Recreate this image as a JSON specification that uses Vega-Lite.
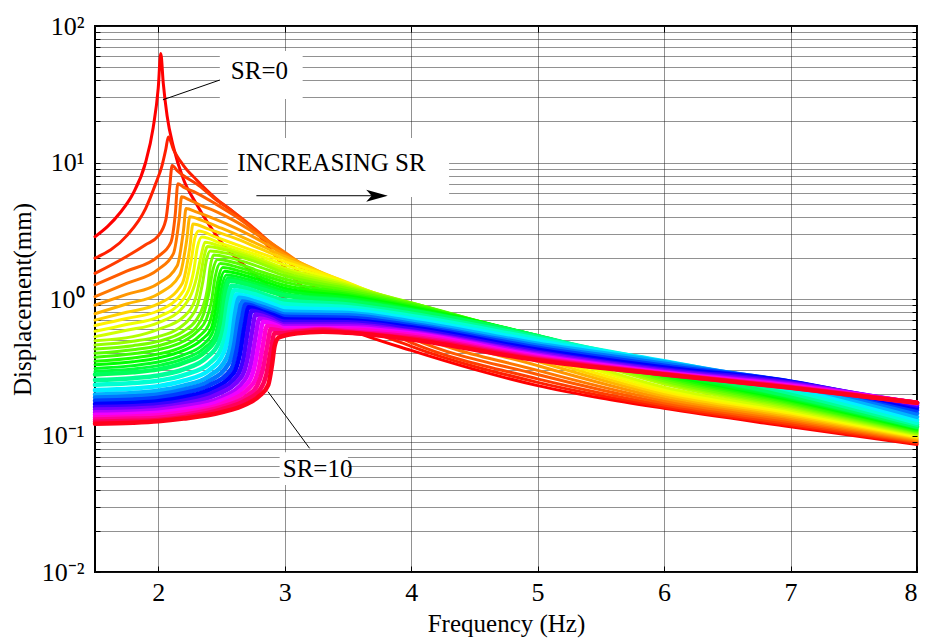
{
"$schema":"https://vega.github.io/schema/vega-lite/v6.json",
"width":822,"height":546,
"autosize":{"type":"none"},
"padding":{"left":95,"top":26,"right":10,"bottom":72},
"background":"white",
"config":{"view":{"stroke":"black","strokeWidth":2},"axis":{"labelFont":"Liberation Serif","titleFont":"Liberation Serif","labelColor":"black","titleColor":"black","tickColor":"black","domain":false,"titleFontWeight":"normal"}},
"datasets":{
"curves":[
{"s":0,"f":1.5,"d":2.86},{"s":0,"f":1.6,"d":3.4},{"s":0,"f":1.7,"d":4.3},{"s":0,"f":1.8,"d":5.9},{"s":0,"f":1.9,"d":10},{"s":0,"f":1.96,"d":18},{"s":0,"f":2.0,"d":35},{"s":0,"f":2.02,"d":63},{"s":0,"f":2.04,"d":38},{"s":0,"f":2.07,"d":22},{"s":0,"f":2.12,"d":13},{"s":0,"f":2.2,"d":7.5},{"s":0,"f":2.3,"d":5.0},{"s":0,"f":2.5,"d":2.6},{"s":0,"f":2.75,"d":1.55},{"s":0,"f":3.0,"d":1.0},{"s":0,"f":3.25,"d":0.75},{"s":0,"f":3.5,"d":0.6},{"s":0,"f":4.0,"d":0.42},{"s":0,"f":4.5,"d":0.305},{"s":0,"f":5.0,"d":0.232},{"s":0,"f":5.5,"d":0.188},{"s":0,"f":6.0,"d":0.158},{"s":0,"f":7.0,"d":0.116},{"s":0,"f":8.0,"d":0.086},
{"s":0.2,"f":1.5,"d":1.99},{"s":0.2,"f":1.75,"d":2.9},{"s":0.2,"f":1.9,"d":4.6},{"s":0.2,"f":1.98,"d":7.0},{"s":0.2,"f":2.03,"d":9.5},{"s":0.2,"f":2.06,"d":12.5},{"s":0.2,"f":2.08,"d":15.4},{"s":0.2,"f":2.12,"d":12.5},{"s":0.2,"f":2.2,"d":9.5},{"s":0.2,"f":2.3,"d":7.5},{"s":0.2,"f":2.45,"d":5.5},{"s":0.2,"f":2.6,"d":4.3},{"s":0.2,"f":2.8,"d":2.9},{"s":0.2,"f":3.0,"d":1.7},{"s":0.2,"f":3.25,"d":0.98},{"s":0.2,"f":3.5,"d":0.7},{"s":0.2,"f":4.0,"d":0.45},{"s":0.2,"f":5.0,"d":0.245},{"s":0.2,"f":6.0,"d":0.162},{"s":0.2,"f":7.0,"d":0.119},{"s":0.2,"f":8.0,"d":0.0875},
{"s":0.4,"f":1.5,"d":1.54},{"s":0.4,"f":1.75,"d":2.05},{"s":0.4,"f":1.9,"d":2.5},{"s":0.4,"f":2.0,"d":2.9},{"s":0.4,"f":2.06,"d":3.8},{"s":0.4,"f":2.09,"d":6.5},{"s":0.4,"f":2.11,"d":9.5},{"s":0.4,"f":2.15,"d":8.7},{"s":0.4,"f":2.2,"d":8.0},{"s":0.4,"f":2.3,"d":7.0},{"s":0.4,"f":2.45,"d":5.4},{"s":0.4,"f":2.6,"d":4.3},{"s":0.4,"f":2.8,"d":3.05},{"s":0.4,"f":3.0,"d":2.0},{"s":0.4,"f":3.25,"d":1.18},{"s":0.4,"f":3.5,"d":0.8},{"s":0.4,"f":4.0,"d":0.48},{"s":0.4,"f":5.0,"d":0.26},{"s":0.4,"f":6.0,"d":0.167},{"s":0.4,"f":7.0,"d":0.122},{"s":0.4,"f":8.0,"d":0.089},
{"s":0.6,"f":1.5,"d":1.27},{"s":0.6,"f":1.75,"d":1.6},{"s":0.6,"f":2.0,"d":2.05},{"s":0.6,"f":2.1,"d":2.6},{"s":0.6,"f":2.135,"d":4.2},{"s":0.6,"f":2.155,"d":7.0},{"s":0.6,"f":2.2,"d":6.6},{"s":0.6,"f":2.3,"d":6.0},{"s":0.6,"f":2.45,"d":5.0},{"s":0.6,"f":2.6,"d":4.1},{"s":0.6,"f":2.8,"d":3.0},{"s":0.6,"f":3.0,"d":2.15},{"s":0.6,"f":3.25,"d":1.36},{"s":0.6,"f":3.5,"d":0.92},{"s":0.6,"f":4.0,"d":0.52},{"s":0.6,"f":5.0,"d":0.28},{"s":0.6,"f":6.0,"d":0.173},{"s":0.6,"f":7.0,"d":0.126},{"s":0.6,"f":8.0,"d":0.0905},
{"s":0.8,"f":1.5,"d":1.04},{"s":0.8,"f":1.75,"d":1.3},{"s":0.8,"f":2.0,"d":1.65},{"s":0.8,"f":2.12,"d":2.15},{"s":0.8,"f":2.165,"d":3.8},{"s":0.8,"f":2.185,"d":5.6},{"s":0.8,"f":2.25,"d":5.3},{"s":0.8,"f":2.35,"d":4.8},{"s":0.8,"f":2.45,"d":4.4},{"s":0.8,"f":2.6,"d":3.75},{"s":0.8,"f":2.8,"d":2.9},{"s":0.8,"f":3.0,"d":2.2},{"s":0.8,"f":3.25,"d":1.5},{"s":0.8,"f":3.5,"d":1.04},{"s":0.8,"f":4.0,"d":0.57},{"s":0.8,"f":5.0,"d":0.3},{"s":0.8,"f":6.0,"d":0.18},{"s":0.8,"f":7.0,"d":0.13},{"s":0.8,"f":8.0,"d":0.092},
{"s":1.0,"f":1.5,"d":0.9},{"s":1.0,"f":1.75,"d":1.08},{"s":1.0,"f":2.0,"d":1.3},{"s":1.0,"f":2.15,"d":1.75},{"s":1.0,"f":2.2,"d":3.2},{"s":1.0,"f":2.22,"d":4.6},{"s":1.0,"f":2.3,"d":4.35},{"s":1.0,"f":2.45,"d":3.85},{"s":1.0,"f":2.6,"d":3.35},{"s":1.0,"f":2.8,"d":2.7},{"s":1.0,"f":3.0,"d":2.12},{"s":1.0,"f":3.25,"d":1.6},{"s":1.0,"f":3.5,"d":1.15},{"s":1.0,"f":4.0,"d":0.63},{"s":1.0,"f":5.0,"d":0.325},{"s":1.0,"f":6.0,"d":0.187},{"s":1.0,"f":7.0,"d":0.134},{"s":1.0,"f":8.0,"d":0.0935},
{"s":1.2,"f":1.5,"d":0.78},{"s":1.2,"f":1.75,"d":0.92},{"s":1.2,"f":2.0,"d":1.09},{"s":1.2,"f":2.17,"d":1.5},{"s":1.2,"f":2.225,"d":2.7},{"s":1.2,"f":2.25,"d":4.0},{"s":1.2,"f":2.35,"d":3.75},{"s":1.2,"f":2.5,"d":3.3},{"s":1.2,"f":2.7,"d":2.75},{"s":1.2,"f":3.0,"d":2.05},{"s":1.2,"f":3.25,"d":1.63},{"s":1.2,"f":3.5,"d":1.24},{"s":1.2,"f":4.0,"d":0.7},{"s":1.2,"f":5.0,"d":0.35},{"s":1.2,"f":6.0,"d":0.195},{"s":1.2,"f":7.0,"d":0.138},{"s":1.2,"f":8.0,"d":0.095},
{"s":1.4,"f":1.5,"d":0.7},{"s":1.4,"f":1.75,"d":0.8},{"s":1.4,"f":2.0,"d":0.92},{"s":1.4,"f":2.19,"d":1.3},{"s":1.4,"f":2.25,"d":2.4},{"s":1.4,"f":2.275,"d":3.55},{"s":1.4,"f":2.4,"d":3.25},{"s":1.4,"f":2.6,"d":2.8},{"s":1.4,"f":2.8,"d":2.35},{"s":1.4,"f":3.0,"d":1.97},{"s":1.4,"f":3.25,"d":1.62},{"s":1.4,"f":3.5,"d":1.3},{"s":1.4,"f":4.0,"d":0.76},{"s":1.4,"f":5.0,"d":0.37},{"s":1.4,"f":6.0,"d":0.202},{"s":1.4,"f":7.0,"d":0.142},{"s":1.4,"f":8.0,"d":0.0965},
{"s":1.6,"f":1.5,"d":0.64},{"s":1.6,"f":1.75,"d":0.72},{"s":1.6,"f":2.0,"d":0.82},{"s":1.6,"f":2.2,"d":1.15},{"s":1.6,"f":2.26,"d":1.9},{"s":1.6,"f":2.29,"d":2.8},{"s":1.6,"f":2.32,"d":3.15},{"s":1.6,"f":2.45,"d":2.85},{"s":1.6,"f":2.7,"d":2.35},{"s":1.6,"f":3.0,"d":1.88},{"s":1.6,"f":3.5,"d":1.32},{"s":1.6,"f":4.0,"d":0.82},{"s":1.6,"f":5.0,"d":0.39},{"s":1.6,"f":6.0,"d":0.21},{"s":1.6,"f":7.0,"d":0.146},{"s":1.6,"f":8.0,"d":0.098},
{"s":1.8,"f":1.5,"d":0.58},{"s":1.8,"f":1.75,"d":0.65},{"s":1.8,"f":2.0,"d":0.74},{"s":1.8,"f":2.2,"d":1.0},{"s":1.8,"f":2.28,"d":1.6},{"s":1.8,"f":2.31,"d":2.4},{"s":1.8,"f":2.345,"d":2.85},{"s":1.8,"f":2.5,"d":2.55},{"s":1.8,"f":2.75,"d":2.15},{"s":1.8,"f":3.0,"d":1.78},{"s":1.8,"f":3.5,"d":1.3},{"s":1.8,"f":4.0,"d":0.87},{"s":1.8,"f":5.0,"d":0.415},{"s":1.8,"f":6.0,"d":0.218},{"s":1.8,"f":7.0,"d":0.15},{"s":1.8,"f":8.0,"d":0.0995},
{"s":2.0,"f":1.5,"d":0.53},{"s":2.0,"f":1.75,"d":0.59},{"s":2.0,"f":2.0,"d":0.67},{"s":2.0,"f":2.2,"d":0.88},{"s":2.0,"f":2.3,"d":1.4},{"s":2.0,"f":2.34,"d":2.1},{"s":2.0,"f":2.37,"d":2.6},{"s":2.0,"f":2.5,"d":2.42},{"s":2.0,"f":2.75,"d":2.05},{"s":2.0,"f":3.0,"d":1.68},{"s":2.0,"f":3.5,"d":1.28},{"s":2.0,"f":4.0,"d":0.9},{"s":2.0,"f":5.0,"d":0.435},{"s":2.0,"f":6.0,"d":0.226},{"s":2.0,"f":7.0,"d":0.154},{"s":2.0,"f":8.0,"d":0.101},
{"s":2.2,"f":1.5,"d":0.495},{"s":2.2,"f":1.8,"d":0.53},{"s":2.2,"f":2.0,"d":0.6},{"s":2.2,"f":2.2,"d":0.74},{"s":2.2,"f":2.29,"d":0.98},{"s":2.2,"f":2.33,"d":1.4},{"s":2.2,"f":2.36,"d":2.0},{"s":2.2,"f":2.39,"d":2.42},{"s":2.2,"f":2.52,"d":2.3},{"s":2.2,"f":2.75,"d":1.98},{"s":2.2,"f":3.0,"d":1.62},{"s":2.2,"f":3.5,"d":1.25},{"s":2.2,"f":4.0,"d":0.925},{"s":2.2,"f":5.0,"d":0.46},{"s":2.2,"f":6.0,"d":0.238},{"s":2.2,"f":7.0,"d":0.158},{"s":2.2,"f":8.0,"d":0.1025},
{"s":2.4,"f":1.5,"d":0.46},{"s":2.4,"f":1.8,"d":0.49},{"s":2.4,"f":2.0,"d":0.53},{"s":2.4,"f":2.15,"d":0.6},{"s":2.4,"f":2.25,"d":0.72},{"s":2.4,"f":2.31,"d":0.9},{"s":2.4,"f":2.35,"d":1.3},{"s":2.4,"f":2.38,"d":1.9},{"s":2.4,"f":2.41,"d":2.25},{"s":2.4,"f":2.55,"d":2.15},{"s":2.4,"f":2.75,"d":1.9},{"s":2.4,"f":3.0,"d":1.55},{"s":2.4,"f":3.5,"d":1.22},{"s":2.4,"f":4.0,"d":0.94},{"s":2.4,"f":5.0,"d":0.475},{"s":2.4,"f":6.0,"d":0.245},{"s":2.4,"f":7.0,"d":0.162},{"s":2.4,"f":8.0,"d":0.104},
{"s":2.6,"f":1.5,"d":0.43},{"s":2.6,"f":1.8,"d":0.455},{"s":2.6,"f":2.0,"d":0.49},{"s":2.6,"f":2.2,"d":0.58},{"s":2.6,"f":2.3,"d":0.7},{"s":2.6,"f":2.35,"d":0.86},{"s":2.6,"f":2.39,"d":1.2},{"s":2.6,"f":2.41,"d":1.7},{"s":2.6,"f":2.44,"d":2.1},{"s":2.6,"f":2.57,"d":2.0},{"s":2.6,"f":2.8,"d":1.72},{"s":2.6,"f":3.0,"d":1.48},{"s":2.6,"f":3.5,"d":1.19},{"s":2.6,"f":4.0,"d":0.935},{"s":2.6,"f":5.0,"d":0.49},{"s":2.6,"f":6.0,"d":0.252},{"s":2.6,"f":7.0,"d":0.166},{"s":2.6,"f":8.0,"d":0.1055},
{"s":2.8,"f":1.5,"d":0.4},{"s":2.8,"f":1.8,"d":0.425},{"s":2.8,"f":2.0,"d":0.455},{"s":2.8,"f":2.2,"d":0.53},{"s":2.8,"f":2.3,"d":0.62},{"s":2.8,"f":2.36,"d":0.78},{"s":2.8,"f":2.4,"d":1.1},{"s":2.8,"f":2.43,"d":1.6},{"s":2.8,"f":2.47,"d":1.95},{"s":2.8,"f":2.6,"d":1.85},{"s":2.8,"f":2.8,"d":1.6},{"s":2.8,"f":3.0,"d":1.4},{"s":2.8,"f":3.5,"d":1.15},{"s":2.8,"f":4.0,"d":0.93},{"s":2.8,"f":5.0,"d":0.505},{"s":2.8,"f":6.0,"d":0.26},{"s":2.8,"f":7.0,"d":0.17},{"s":2.8,"f":8.0,"d":0.107},
{"s":3.0,"f":1.5,"d":0.375},{"s":3.0,"f":1.8,"d":0.397},{"s":3.0,"f":2.0,"d":0.425},{"s":3.0,"f":2.2,"d":0.49},{"s":3.0,"f":2.31,"d":0.58},{"s":3.0,"f":2.38,"d":0.71},{"s":3.0,"f":2.42,"d":0.95},{"s":3.0,"f":2.45,"d":1.45},{"s":3.0,"f":2.49,"d":1.82},{"s":3.0,"f":2.62,"d":1.72},{"s":3.0,"f":2.8,"d":1.52},{"s":3.0,"f":3.0,"d":1.33},{"s":3.0,"f":3.5,"d":1.11},{"s":3.0,"f":4.0,"d":0.91},{"s":3.0,"f":5.0,"d":0.52},{"s":3.0,"f":6.0,"d":0.268},{"s":3.0,"f":7.0,"d":0.174},{"s":3.0,"f":8.0,"d":0.1085},
{"s":3.2,"f":1.5,"d":0.35},{"s":3.2,"f":1.8,"d":0.37},{"s":3.2,"f":2.0,"d":0.395},{"s":3.2,"f":2.2,"d":0.45},{"s":3.2,"f":2.32,"d":0.53},{"s":3.2,"f":2.4,"d":0.65},{"s":3.2,"f":2.44,"d":0.9},{"s":3.2,"f":2.47,"d":1.35},{"s":3.2,"f":2.51,"d":1.7},{"s":3.2,"f":2.65,"d":1.6},{"s":3.2,"f":2.8,"d":1.45},{"s":3.2,"f":3.0,"d":1.26},{"s":3.2,"f":3.5,"d":1.08},{"s":3.2,"f":4.0,"d":0.89},{"s":3.2,"f":5.0,"d":0.53},{"s":3.2,"f":6.0,"d":0.275},{"s":3.2,"f":7.0,"d":0.178},{"s":3.2,"f":8.0,"d":0.11},
{"s":3.4,"f":1.5,"d":0.33},{"s":3.4,"f":1.8,"d":0.347},{"s":3.4,"f":2.0,"d":0.37},{"s":3.4,"f":2.2,"d":0.42},{"s":3.4,"f":2.34,"d":0.5},{"s":3.4,"f":2.42,"d":0.61},{"s":3.4,"f":2.455,"d":0.85},{"s":3.4,"f":2.485,"d":1.28},{"s":3.4,"f":2.525,"d":1.6},{"s":3.4,"f":2.67,"d":1.5},{"s":3.4,"f":2.82,"d":1.36},{"s":3.4,"f":3.0,"d":1.2},{"s":3.4,"f":3.5,"d":1.05},{"s":3.4,"f":4.0,"d":0.87},{"s":3.4,"f":5.0,"d":0.537},{"s":3.4,"f":6.0,"d":0.283},{"s":3.4,"f":7.0,"d":0.182},{"s":3.4,"f":8.0,"d":0.1115},
{"s":3.6,"f":1.5,"d":0.31},{"s":3.6,"f":1.8,"d":0.325},{"s":3.6,"f":2.0,"d":0.345},{"s":3.6,"f":2.2,"d":0.39},{"s":3.6,"f":2.35,"d":0.46},{"s":3.6,"f":2.43,"d":0.57},{"s":3.6,"f":2.47,"d":0.8},{"s":3.6,"f":2.5,"d":1.2},{"s":3.6,"f":2.54,"d":1.5},{"s":3.6,"f":2.7,"d":1.4},{"s":3.6,"f":2.85,"d":1.27},{"s":3.6,"f":3.0,"d":1.15},{"s":3.6,"f":3.5,"d":1.02},{"s":3.6,"f":4.0,"d":0.85},{"s":3.6,"f":5.0,"d":0.54},{"s":3.6,"f":6.0,"d":0.29},{"s":3.6,"f":7.0,"d":0.186},{"s":3.6,"f":8.0,"d":0.113},
{"s":3.8,"f":1.5,"d":0.295},{"s":3.8,"f":1.8,"d":0.307},{"s":3.8,"f":2.0,"d":0.325},{"s":3.8,"f":2.2,"d":0.365},{"s":3.8,"f":2.36,"d":0.435},{"s":3.8,"f":2.45,"d":0.545},{"s":3.8,"f":2.485,"d":0.75},{"s":3.8,"f":2.515,"d":1.15},{"s":3.8,"f":2.55,"d":1.43},{"s":3.8,"f":2.7,"d":1.34},{"s":3.8,"f":2.85,"d":1.22},{"s":3.8,"f":3.0,"d":1.1},{"s":3.8,"f":3.5,"d":0.99},{"s":3.8,"f":4.0,"d":0.835},{"s":3.8,"f":5.0,"d":0.54},{"s":3.8,"f":6.0,"d":0.3},{"s":3.8,"f":7.0,"d":0.19},{"s":3.8,"f":8.0,"d":0.1145},
{"s":4.0,"f":1.5,"d":0.28},{"s":4.0,"f":1.8,"d":0.29},{"s":4.0,"f":2.0,"d":0.305},{"s":4.0,"f":2.2,"d":0.34},{"s":4.0,"f":2.37,"d":0.41},{"s":4.0,"f":2.46,"d":0.52},{"s":4.0,"f":2.5,"d":0.7},{"s":4.0,"f":2.53,"d":1.1},{"s":4.0,"f":2.56,"d":1.36},{"s":4.0,"f":2.7,"d":1.28},{"s":4.0,"f":2.85,"d":1.16},{"s":4.0,"f":3.0,"d":1.06},{"s":4.0,"f":3.5,"d":0.96},{"s":4.0,"f":4.0,"d":0.82},{"s":4.0,"f":5.0,"d":0.535},{"s":4.0,"f":6.0,"d":0.31},{"s":4.0,"f":7.0,"d":0.195},{"s":4.0,"f":8.0,"d":0.116},
{"s":4.4,"f":1.5,"d":0.255},{"s":4.4,"f":1.8,"d":0.263},{"s":4.4,"f":2.0,"d":0.275},{"s":4.4,"f":2.2,"d":0.305},{"s":4.4,"f":2.38,"d":0.37},{"s":4.4,"f":2.48,"d":0.48},{"s":4.4,"f":2.52,"d":0.65},{"s":4.4,"f":2.55,"d":1.0},{"s":4.4,"f":2.58,"d":1.25},{"s":4.4,"f":2.72,"d":1.18},{"s":4.4,"f":2.85,"d":1.07},{"s":4.4,"f":3.0,"d":0.98},{"s":4.4,"f":3.5,"d":0.91},{"s":4.4,"f":4.0,"d":0.78},{"s":4.4,"f":5.0,"d":0.525},{"s":4.4,"f":6.0,"d":0.33},{"s":4.4,"f":7.0,"d":0.205},{"s":4.4,"f":8.0,"d":0.12},
{"s":4.8,"f":1.5,"d":0.235},{"s":4.8,"f":1.8,"d":0.242},{"s":4.8,"f":2.0,"d":0.252},{"s":4.8,"f":2.2,"d":0.277},{"s":4.8,"f":2.4,"d":0.335},{"s":4.8,"f":2.5,"d":0.44},{"s":4.8,"f":2.54,"d":0.6},{"s":4.8,"f":2.57,"d":0.92},{"s":4.8,"f":2.6,"d":1.16},{"s":4.8,"f":2.75,"d":1.09},{"s":4.8,"f":2.9,"d":0.98},{"s":4.8,"f":3.0,"d":0.92},{"s":4.8,"f":3.5,"d":0.87},{"s":4.8,"f":4.0,"d":0.75},{"s":4.8,"f":5.0,"d":0.51},{"s":4.8,"f":6.0,"d":0.345},{"s":4.8,"f":7.0,"d":0.215},{"s":4.8,"f":8.0,"d":0.124},
{"s":5.2,"f":1.5,"d":0.215},{"s":5.2,"f":1.8,"d":0.221},{"s":5.2,"f":2.0,"d":0.23},{"s":5.2,"f":2.2,"d":0.252},{"s":5.2,"f":2.4,"d":0.3},{"s":5.2,"f":2.52,"d":0.41},{"s":5.2,"f":2.56,"d":0.56},{"s":5.2,"f":2.59,"d":0.86},{"s":5.2,"f":2.62,"d":1.08},{"s":5.2,"f":2.75,"d":1.02},{"s":5.2,"f":2.9,"d":0.92},{"s":5.2,"f":3.0,"d":0.86},{"s":5.2,"f":3.5,"d":0.83},{"s":5.2,"f":4.0,"d":0.715},{"s":5.2,"f":5.0,"d":0.49},{"s":5.2,"f":6.0,"d":0.35},{"s":5.2,"f":7.0,"d":0.226},{"s":5.2,"f":8.0,"d":0.13},
{"s":5.6,"f":1.5,"d":0.2},{"s":5.6,"f":1.8,"d":0.205},{"s":5.6,"f":2.0,"d":0.213},{"s":5.6,"f":2.2,"d":0.232},{"s":5.6,"f":2.4,"d":0.272},{"s":5.6,"f":2.54,"d":0.37},{"s":5.6,"f":2.58,"d":0.5},{"s":5.6,"f":2.61,"d":0.8},{"s":5.6,"f":2.64,"d":1.02},{"s":5.6,"f":2.78,"d":0.95},{"s":5.6,"f":2.9,"d":0.87},{"s":5.6,"f":3.0,"d":0.81},{"s":5.6,"f":3.5,"d":0.79},{"s":5.6,"f":4.0,"d":0.685},{"s":5.6,"f":5.0,"d":0.47},{"s":5.6,"f":6.0,"d":0.345},{"s":5.6,"f":7.0,"d":0.236},{"s":5.6,"f":8.0,"d":0.137},
{"s":6.0,"f":1.5,"d":0.19},{"s":6.0,"f":1.8,"d":0.194},{"s":6.0,"f":2.0,"d":0.2},{"s":6.0,"f":2.2,"d":0.217},{"s":6.0,"f":2.4,"d":0.25},{"s":6.0,"f":2.56,"d":0.34},{"s":6.0,"f":2.6,"d":0.46},{"s":6.0,"f":2.635,"d":0.75},{"s":6.0,"f":2.665,"d":0.96},{"s":6.0,"f":2.8,"d":0.89},{"s":6.0,"f":2.9,"d":0.83},{"s":6.0,"f":3.0,"d":0.77},{"s":6.0,"f":3.5,"d":0.76},{"s":6.0,"f":4.0,"d":0.66},{"s":6.0,"f":5.0,"d":0.455},{"s":6.0,"f":6.0,"d":0.335},{"s":6.0,"f":7.0,"d":0.244},{"s":6.0,"f":8.0,"d":0.145},
{"s":6.4,"f":1.5,"d":0.18},{"s":6.4,"f":1.8,"d":0.183},{"s":6.4,"f":2.0,"d":0.189},{"s":6.4,"f":2.2,"d":0.204},{"s":6.4,"f":2.4,"d":0.232},{"s":6.4,"f":2.58,"d":0.31},{"s":6.4,"f":2.62,"d":0.42},{"s":6.4,"f":2.66,"d":0.7},{"s":6.4,"f":2.69,"d":0.91},{"s":6.4,"f":2.82,"d":0.84},{"s":6.4,"f":2.92,"d":0.78},{"s":6.4,"f":3.0,"d":0.74},{"s":6.4,"f":3.5,"d":0.73},{"s":6.4,"f":4.0,"d":0.64},{"s":6.4,"f":5.0,"d":0.44},{"s":6.4,"f":6.0,"d":0.325},{"s":6.4,"f":7.0,"d":0.248},{"s":6.4,"f":8.0,"d":0.153},
{"s":6.8,"f":1.5,"d":0.17},{"s":6.8,"f":1.8,"d":0.173},{"s":6.8,"f":2.0,"d":0.178},{"s":6.8,"f":2.2,"d":0.191},{"s":6.8,"f":2.4,"d":0.215},{"s":6.8,"f":2.6,"d":0.29},{"s":6.8,"f":2.645,"d":0.39},{"s":6.8,"f":2.685,"d":0.65},{"s":6.8,"f":2.715,"d":0.87},{"s":6.8,"f":2.84,"d":0.8},{"s":6.8,"f":2.93,"d":0.75},{"s":6.8,"f":3.0,"d":0.71},{"s":6.8,"f":3.5,"d":0.7},{"s":6.8,"f":4.0,"d":0.62},{"s":6.8,"f":5.0,"d":0.425},{"s":6.8,"f":6.0,"d":0.315},{"s":6.8,"f":7.0,"d":0.248},{"s":6.8,"f":8.0,"d":0.16},
{"s":7.2,"f":1.5,"d":0.162},{"s":7.2,"f":1.8,"d":0.164},{"s":7.2,"f":2.0,"d":0.169},{"s":7.2,"f":2.2,"d":0.18},{"s":7.2,"f":2.45,"d":0.21},{"s":7.2,"f":2.63,"d":0.28},{"s":7.2,"f":2.675,"d":0.37},{"s":7.2,"f":2.71,"d":0.6},{"s":7.2,"f":2.74,"d":0.82},{"s":7.2,"f":2.86,"d":0.76},{"s":7.2,"f":3.0,"d":0.68},{"s":7.2,"f":3.5,"d":0.675},{"s":7.2,"f":4.0,"d":0.6},{"s":7.2,"f":5.0,"d":0.41},{"s":7.2,"f":6.0,"d":0.305},{"s":7.2,"f":7.0,"d":0.245},{"s":7.2,"f":8.0,"d":0.166},
{"s":7.6,"f":1.5,"d":0.155},{"s":7.6,"f":1.8,"d":0.157},{"s":7.6,"f":2.0,"d":0.161},{"s":7.6,"f":2.2,"d":0.171},{"s":7.6,"f":2.45,"d":0.197},{"s":7.6,"f":2.66,"d":0.27},{"s":7.6,"f":2.705,"d":0.36},{"s":7.6,"f":2.74,"d":0.56},{"s":7.6,"f":2.77,"d":0.77},{"s":7.6,"f":2.88,"d":0.72},{"s":7.6,"f":3.0,"d":0.65},{"s":7.6,"f":3.5,"d":0.65},{"s":7.6,"f":4.0,"d":0.58},{"s":7.6,"f":5.0,"d":0.4},{"s":7.6,"f":6.0,"d":0.298},{"s":7.6,"f":7.0,"d":0.24},{"s":7.6,"f":8.0,"d":0.17},
{"s":8.0,"f":1.5,"d":0.148},{"s":8.0,"f":1.8,"d":0.15},{"s":8.0,"f":2.0,"d":0.154},{"s":8.0,"f":2.2,"d":0.163},{"s":8.0,"f":2.5,"d":0.19},{"s":8.0,"f":2.69,"d":0.26},{"s":8.0,"f":2.735,"d":0.34},{"s":8.0,"f":2.77,"d":0.53},{"s":8.0,"f":2.8,"d":0.72},{"s":8.0,"f":2.9,"d":0.68},{"s":8.0,"f":3.0,"d":0.63},{"s":8.0,"f":3.5,"d":0.63},{"s":8.0,"f":4.0,"d":0.572},{"s":8.0,"f":5.0,"d":0.39},{"s":8.0,"f":6.0,"d":0.292},{"s":8.0,"f":7.0,"d":0.236},{"s":8.0,"f":8.0,"d":0.172},
{"s":8.4,"f":1.5,"d":0.142},{"s":8.4,"f":1.8,"d":0.144},{"s":8.4,"f":2.0,"d":0.147},{"s":8.4,"f":2.2,"d":0.155},{"s":8.4,"f":2.5,"d":0.18},{"s":8.4,"f":2.72,"d":0.25},{"s":8.4,"f":2.765,"d":0.33},{"s":8.4,"f":2.8,"d":0.5},{"s":8.4,"f":2.83,"d":0.68},{"s":8.4,"f":2.92,"d":0.65},{"s":8.4,"f":3.0,"d":0.61},{"s":8.4,"f":3.5,"d":0.61},{"s":8.4,"f":4.0,"d":0.558},{"s":8.4,"f":5.0,"d":0.382},{"s":8.4,"f":6.0,"d":0.288},{"s":8.4,"f":7.0,"d":0.232},{"s":8.4,"f":8.0,"d":0.173},
{"s":8.8,"f":1.5,"d":0.136},{"s":8.8,"f":1.8,"d":0.138},{"s":8.8,"f":2.0,"d":0.141},{"s":8.8,"f":2.2,"d":0.148},{"s":8.8,"f":2.5,"d":0.17},{"s":8.8,"f":2.75,"d":0.24},{"s":8.8,"f":2.795,"d":0.31},{"s":8.8,"f":2.83,"d":0.47},{"s":8.8,"f":2.86,"d":0.635},{"s":8.8,"f":2.94,"d":0.62},{"s":8.8,"f":3.0,"d":0.59},{"s":8.8,"f":3.5,"d":0.595},{"s":8.8,"f":4.0,"d":0.545},{"s":8.8,"f":5.0,"d":0.375},{"s":8.8,"f":6.0,"d":0.285},{"s":8.8,"f":7.0,"d":0.229},{"s":8.8,"f":8.0,"d":0.174},
{"s":9.2,"f":1.5,"d":0.131},{"s":9.2,"f":1.8,"d":0.133},{"s":9.2,"f":2.0,"d":0.135},{"s":9.2,"f":2.2,"d":0.142},{"s":9.2,"f":2.5,"d":0.162},{"s":9.2,"f":2.7,"d":0.195},{"s":9.2,"f":2.78,"d":0.23},{"s":9.2,"f":2.825,"d":0.3},{"s":9.2,"f":2.86,"d":0.44},{"s":9.2,"f":2.89,"d":0.6},{"s":9.2,"f":2.95,"d":0.59},{"s":9.2,"f":3.0,"d":0.575},{"s":9.2,"f":3.3,"d":0.6},{"s":9.2,"f":3.5,"d":0.58},{"s":9.2,"f":4.0,"d":0.53},{"s":9.2,"f":5.0,"d":0.368},{"s":9.2,"f":6.0,"d":0.283},{"s":9.2,"f":7.0,"d":0.227},{"s":9.2,"f":8.0,"d":0.174},
{"s":9.6,"f":1.5,"d":0.126},{"s":9.6,"f":1.8,"d":0.128},{"s":9.6,"f":2.0,"d":0.13},{"s":9.6,"f":2.2,"d":0.136},{"s":9.6,"f":2.5,"d":0.155},{"s":9.6,"f":2.7,"d":0.183},{"s":9.6,"f":2.81,"d":0.22},{"s":9.6,"f":2.855,"d":0.28},{"s":9.6,"f":2.89,"d":0.42},{"s":9.6,"f":2.92,"d":0.56},{"s":9.6,"f":2.97,"d":0.56},{"s":9.6,"f":3.1,"d":0.575},{"s":9.6,"f":3.3,"d":0.59},{"s":9.6,"f":3.5,"d":0.57},{"s":9.6,"f":4.0,"d":0.515},{"s":9.6,"f":5.0,"d":0.362},{"s":9.6,"f":6.0,"d":0.281},{"s":9.6,"f":7.0,"d":0.225},{"s":9.6,"f":8.0,"d":0.174},
{"s":10,"f":1.5,"d":0.122},{"s":10,"f":1.8,"d":0.124},{"s":10,"f":2.0,"d":0.127},{"s":10,"f":2.2,"d":0.133},{"s":10,"f":2.5,"d":0.148},{"s":10,"f":2.7,"d":0.17},{"s":10,"f":2.8,"d":0.195},{"s":10,"f":2.87,"d":0.235},{"s":10,"f":2.9,"d":0.33},{"s":10,"f":2.92,"d":0.45},{"s":10,"f":2.95,"d":0.52},{"s":10,"f":3.0,"d":0.54},{"s":10,"f":3.1,"d":0.56},{"s":10,"f":3.3,"d":0.575},{"s":10,"f":3.5,"d":0.565},{"s":10,"f":4.0,"d":0.505},{"s":10,"f":5.0,"d":0.356},{"s":10,"f":6.0,"d":0.28},{"s":10,"f":7.0,"d":0.224},{"s":10,"f":8.0,"d":0.174}
],
"boxes":[{"x1":2.487,"x2":3.142,"y1":29.2,"y2":65.5},{"x1":2.55,"x2":4.3,"y1":5.58,"y2":15.1},{"x1":2.96,"x2":3.5,"y1":0.0434,"y2":0.0755}],
"labels":[{"f":2.8,"d":46.8,"t":"SR=0"},{"f":3.37,"d":10.0,"t":"INCREASING SR"},{"f":3.26,"d":0.0569,"t":"SR=10"}],
"pointers":[{"x1":2.037,"y1":28.8,"x2":2.487,"y2":40.2},{"x1":2.868,"y1":0.2095,"x2":3.197,"y2":0.0805},{"x1":2.776,"y1":5.71,"x2":3.7,"y2":5.71}],
"heads":[{"f":3.73,"d":5.71}],
"frame":[{"f":3,"d":1}]
},
"resolve":{"axis":{"x":"independent","y":"independent"}},
"layer":[
{"data":{"name":"curves"},
"mark":{"type":"line","interpolate":"monotone","strokeCap":"round","strokeJoin":"round"},
"encoding":{
"x":{"field":"f","type":"quantitative","scale":{"domain":[1.5,8],"nice":false,"zero":false},
"axis":{"orient":"bottom","values":[2,3,4,5,6,7,8],"grid":true,"gridColor":"#222","gridDash":[1,1],"gridWidth":1,"tickSize":-6,"tickWidth":1,"labelFont":"Liberation Serif","labelFontSize":26,"labelPadding":13,"title":"Frequency (Hz)","titleFont":"Liberation Serif","titleFontSize":25,"titleY":51,"titleBaseline":"middle","zindex":0}},
"y":{"field":"d","type":"quantitative","scale":{"type":"log","domain":[0.01,100],"nice":false},
"axis":{"orient":"left","values":[0.01,0.02,0.03,0.04,0.05,0.06,0.07,0.08,0.09,0.1,0.2,0.3,0.4,0.5,0.6,0.7,0.8,0.9,1,2,3,4,5,6,7,8,9,10,20,30,40,50,60,70,80,90,100],"grid":true,"gridColor":"#222","gridDash":[1,1],"gridWidth":1,"tickSize":-5,"tickWidth":1,"labelFont":"Liberation Serif","labelFontSize":26,"labelPadding":16,"labelOverlap":false,"labelExpr":"datum.value == 100 ? '10²' : datum.value == 10 ? '10¹' : datum.value == 1 ? '10⁰' : datum.value == 0.1 ? '10⁻¹' : datum.value == 0.01 ? '10⁻²' : ''","title":"Displacement(mm)","titleFont":"Liberation Serif","titleFontSize":25,"titleAngle":-90,"titleX":-73,"titleBaseline":"middle","zindex":0}},
"color":{"field":"s","type":"quantitative","scale":{"domain":[0,1.7,3.4,5.1,6.8,8.5,10],"range":["#ff0000","#ffff00","#00ff00","#00ffff","#0000ff","#ff00ff","#ff001d"],"interpolate":"rgb"},"legend":null},
"detail":{"field":"s"},
"strokeWidth":{"condition":{"test":"datum.s >= 4","value":4.5},"value":3}
}},
{"data":{"name":"boxes"},"mark":{"type":"rect","fill":"white","stroke":null},
"encoding":{
"x":{"field":"x1","type":"quantitative","scale":{"domain":[1.5,8],"nice":false,"zero":false},"axis":null},
"x2":{"field":"x2"},
"y":{"field":"y1","type":"quantitative","scale":{"type":"log","domain":[0.01,100],"nice":false},"axis":null},
"y2":{"field":"y2"}}},
{"data":{"name":"pointers"},"mark":{"type":"rule","color":"black","strokeWidth":1},
"encoding":{
"x":{"field":"x1","type":"quantitative","scale":{"domain":[1.5,8],"nice":false,"zero":false},"axis":null},
"x2":{"field":"x2"},
"y":{"field":"y1","type":"quantitative","scale":{"type":"log","domain":[0.01,100],"nice":false},"axis":null},
"y2":{"field":"y2"}}},
{"data":{"name":"heads"},"mark":{"type":"point","shape":"M1,0L-1,-0.56L-0.5,0L-1,0.56Z","filled":true,"color":"black","size":467,"opacity":1},
"encoding":{
"x":{"field":"f","type":"quantitative","scale":{"domain":[1.5,8],"nice":false,"zero":false},"axis":null},
"y":{"field":"d","type":"quantitative","scale":{"type":"log","domain":[0.01,100],"nice":false},"axis":null}}},
{"data":{"name":"labels"},"mark":{"type":"text","font":"Liberation Serif","fontSize":25,"color":"black","baseline":"middle","align":"center"},
"encoding":{
"x":{"field":"f","type":"quantitative","scale":{"domain":[1.5,8],"nice":false,"zero":false},"axis":null},
"y":{"field":"d","type":"quantitative","scale":{"type":"log","domain":[0.01,100],"nice":false},"axis":null},
"text":{"field":"t"}}},
{"data":{"name":"frame"},"mark":{"type":"point","opacity":0},
"encoding":{
"x":{"field":"f","type":"quantitative","scale":{"domain":[1.5,8],"nice":false,"zero":false},
"axis":{"orient":"top","values":[2,3,4,5,6,7],"grid":false,"labels":false,"tickSize":-6,"tickWidth":1,"title":null,"zindex":1}},
"y":{"field":"d","type":"quantitative","scale":{"type":"log","domain":[0.01,100],"nice":false},
"axis":{"orient":"right","values":[0.01,0.02,0.03,0.04,0.05,0.06,0.07,0.08,0.09,0.1,0.2,0.3,0.4,0.5,0.6,0.7,0.8,0.9,1,2,3,4,5,6,7,8,9,10,20,30,40,50,60,70,80,90,100],"grid":false,"labels":false,"tickSize":-5,"tickWidth":1,"title":null,"zindex":1}}}}
]
}
